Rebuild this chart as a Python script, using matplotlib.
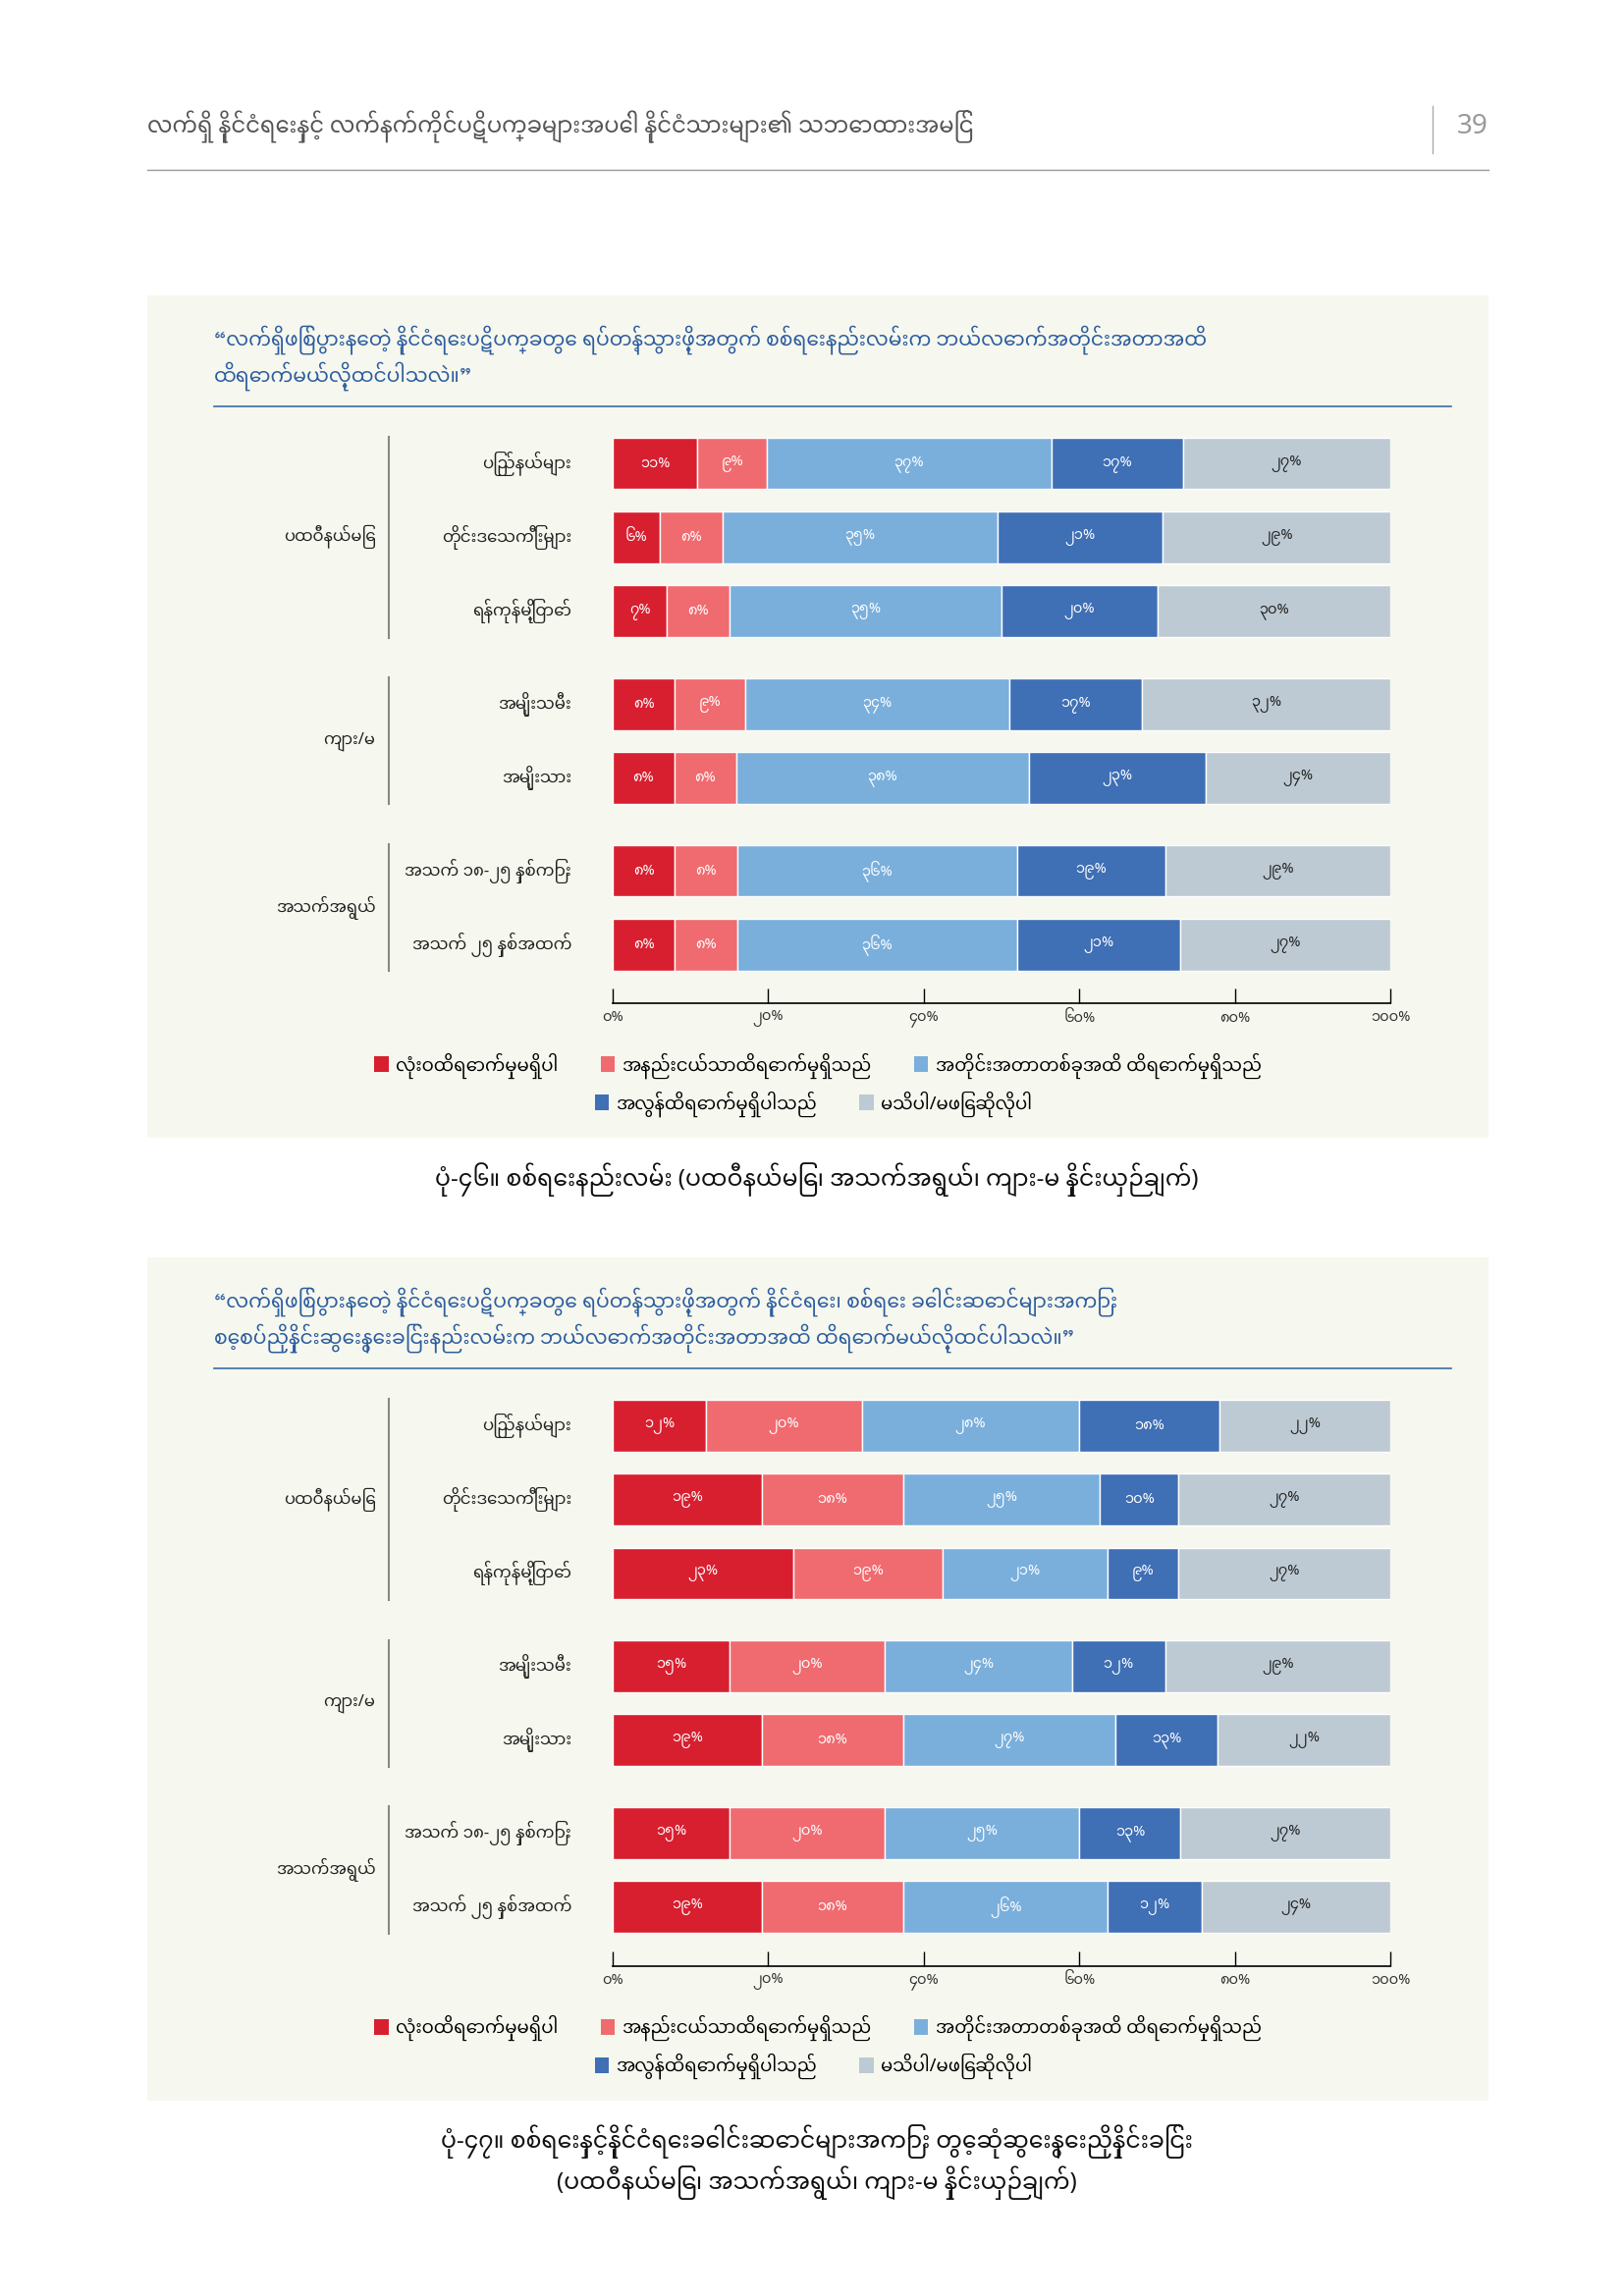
import matplotlib
matplotlib.use("Agg")
import matplotlib.pyplot as plt
from matplotlib import font_manager
from matplotlib.patches import Rectangle, Patch
from matplotlib.lines import Line2D

# pick a Myanmar-capable family if one happens to be installed
installed = {f.name for f in font_manager.fontManager.ttflist}
mm_fonts = [n for n in ["Noto Sans Myanmar", "Noto Serif Myanmar", "Padauk",
                        "Myanmar Text", "Pyidaungsu", "Myanmar3"] if n in installed]
plt.rcParams['font.family'] = mm_fonts + ['DejaVu Sans']

# ---- data ----
header = "လက်ရှိ နိုင်ငံရေးနှင့် လက်နက်ကိုင်ပဋိပက္ခများအပေါ် နိုင်ငံသားများ၏ သဘောထားအမြင်"
page_no = "39"

row_labels = ["ပြည်နယ်များ", "တိုင်းဒေသကြီးများ", "ရန်ကုန်မြို့တော်",
              "အမျိုးသမီး", "အမျိုးသား",
              "အသက် ၁၈-၂၅ နှစ်ကြား", "အသက် ၂၅ နှစ်အထက်"]
group_labels = ["ပထဝီနယ်မြေ", "ကျား/မ", "အသက်အရွယ်"]
group_rows = [(0, 2), (3, 4), (5, 6)]

legend_labels = ["လုံးဝထိရောက်မှုမရှိပါ", "အနည်းငယ်သာထိရောက်မှုရှိသည်",
                 "အတိုင်းအတာတစ်ခုအထိ ထိရောက်မှုရှိသည်",
                 "အလွန်ထိရောက်မှုရှိပါသည်", "မသိပါ/မဖြေဆိုလိုပါ"]
colors = ["#d81f2f", "#f06b6f", "#7aafdc", "#3f6fb5", "#bdcad3"]
text_colors = ["white", "white", "white", "white", "#222222"]
ticks = [0, 20, 40, 60, 80, 100]

q1 = ["“လက်ရှိဖြစ်ပွားနေတဲ့ နိုင်ငံရေးပဋိပက္ခတွေ ရပ်တန့်သွားဖို့အတွက် စစ်ရေးနည်းလမ်းက ဘယ်လောက်အတိုင်းအတာအထိ",
      "ထိရောက်မယ်လို့ထင်ပါသလဲ။”"]
cap1 = ["ပုံ-၄၆။ စစ်ရေးနည်းလမ်း (ပထဝီနယ်မြေ၊ အသက်အရွယ်၊ ကျား-မ နှိုင်းယှဉ်ချက်)"]
not_effective_1 = [11, 6, 7, 8, 8, 8, 8]
little_1 = [9, 8, 8, 9, 8, 8, 8]
some_1 = [37, 35, 35, 34, 38, 36, 36]
very_1 = [17, 21, 20, 17, 23, 19, 21]
dont_know_1 = [27, 29, 30, 32, 24, 29, 27]

q2 = ["“လက်ရှိဖြစ်ပွားနေတဲ့ နိုင်ငံရေးပဋိပက္ခတွေ ရပ်တန့်သွားဖို့အတွက် နိုင်ငံရေး၊ စစ်ရေး ခေါင်းဆောင်များအကြား",
      "စေ့စပ်ညှိနှိုင်းဆွေးနွေးခြင်းနည်းလမ်းက ဘယ်လောက်အတိုင်းအတာအထိ ထိရောက်မယ်လို့ထင်ပါသလဲ။”"]
cap2 = ["ပုံ-၄၇။ စစ်ရေးနှင့်နိုင်ငံရေးခေါင်းဆောင်များအကြား တွေ့ဆုံဆွေးနွေးညှိနှိုင်းခြင်း",
        "(ပထဝီနယ်မြေ၊ အသက်အရွယ်၊ ကျား-မ နှိုင်းယှဉ်ချက်)"]
not_effective_2 = [12, 19, 23, 15, 19, 15, 19]
little_2 = [20, 18, 19, 20, 18, 20, 18]
some_2 = [28, 25, 21, 24, 27, 25, 26]
very_2 = [18, 10, 9, 12, 13, 13, 12]
dont_know_2 = [22, 27, 27, 29, 22, 27, 24]

mm_digits = str.maketrans("0123456789", "၀၁၂၃၄၅၆၇၈၉")

def mm(n):
    return str(n).translate(mm_digits)

# ---- layout helpers (reference measured on a 1100-wide grid) ----
W, H = 1654, 2339
S = W / 1100.0

def fx(x):
    return x / 1100.0

def fy(y):
    return 1 - y * S / H

fig = plt.figure(figsize=(W / 100, H / 100), dpi=100)
fig.patch.set_facecolor("white")

# page header
fig.text(fx(100), fy(86), header, fontsize=16.3, color="#555555", ha="left", va="center")
fig.text(fx(1008), fy(86), page_no, fontsize=20, color="#999999", ha="right", va="center")
fig.add_artist(Line2D([fx(970), fx(970)], [fy(72), fy(104)], color="#aaaaaa", lw=1))
fig.add_artist(Line2D([fx(100), fx(1008)], [fy(115), fy(115)], color="#999999", lw=1))

ypos = [0, 1, 2, 3.26, 4.26, 5.52, 6.52]


def draw_chart(top, question, caption, series):
    # panel background
    fig.add_artist(Rectangle((fx(100), fy(top + 571)), fx(908), (571 * S) / H,
                             transform=fig.transFigure, facecolor="#f6f7ee",
                             edgecolor="none", zorder=0))
    for i, line in enumerate(question):
        fig.text(fx(145), fy(top + 30 + 24.5 * i), line, fontsize=14.6, color="#2c5d9f",
                 style="italic", ha="left", va="center")
    fig.add_artist(Line2D([fx(145), fx(983)], [fy(top + 75), fy(top + 75)],
                          color="#3a6ba8", lw=1.2))

    ax = fig.add_axes([fx(415), fy(top + 480), fx(527), (480 - 84) * S / H])
    ax.set_facecolor("none")

    totals = [sum(v) for v in zip(*series)]
    left = [0.0] * len(ypos)
    for k, vals in enumerate(series):
        widths = [v / t * 100 for v, t in zip(vals, totals)]
        ax.barh(ypos, widths, left=left, height=0.7, color=colors[k],
                edgecolor="white", linewidth=1)
        for y, l, w, v in zip(ypos, left, widths, vals):
            ax.text(l + w / 2, y, mm(v) + "%", ha="center", va="center",
                    fontsize=10.5, color=text_colors[k])
        left = [l + w for l, w in zip(left, widths)]

    ax.set_xlim(0, 100)
    ax.set_ylim((480 - 114) / 50.0, -0.6)
    for s in ["left", "top", "right"]:
        ax.spines[s].set_visible(False)
    ax.spines["bottom"].set_linewidth(1.2)
    ax.set_yticks([])
    ax.set_xticks(ticks)
    ax.set_xticklabels([mm(t) + "%" for t in ticks], fontsize=10.5, color="#333333")
    ax.tick_params(axis="x", direction="in", length=11, width=1, pad=5)

    for y, lab in zip(ypos, row_labels):
        ax.text(-5.3, y, lab, ha="right", va="center", fontsize=12, color="#222222")
    for (a, b), g in zip(group_rows, group_labels):
        y0, y1 = ypos[a] - 0.36, ypos[b] + 0.36
        ax.plot([-28.8, -28.8], [y0, y1], color="#888888", lw=1.5, clip_on=False)
        ax.text(-30.5, (y0 + y1) / 2, g, ha="right", va="center", fontsize=11.8,
                color="#222222")

    handles = [Patch(facecolor=c, edgecolor="none") for c in colors]
    fig.legend(handles[:3], legend_labels[:3], loc="center",
               bbox_to_anchor=(fx(554), fy(top + 522)), ncol=3, frameon=False,
               fontsize=13, handlelength=0.8, handleheight=1.0,
               handletextpad=0.4, columnspacing=2.4)
    fig.legend(handles[3:], legend_labels[3:], loc="center",
               bbox_to_anchor=(fx(551), fy(top + 548)), ncol=2, frameon=False,
               fontsize=13, handlelength=0.8, handleheight=1.0,
               handletextpad=0.4, columnspacing=2.4)

    for i, line in enumerate(caption):
        fig.text(fx(553), fy(top + 599 + 28 * i), line, fontsize=17, color="#111111",
                 ha="center", va="center")


draw_chart(200, q1, cap1, [not_effective_1, little_1, some_1, very_1, dont_know_1])
draw_chart(852, q2, cap2, [not_effective_2, little_2, some_2, very_2, dont_know_2])

fig.savefig("out.png", dpi=100)
